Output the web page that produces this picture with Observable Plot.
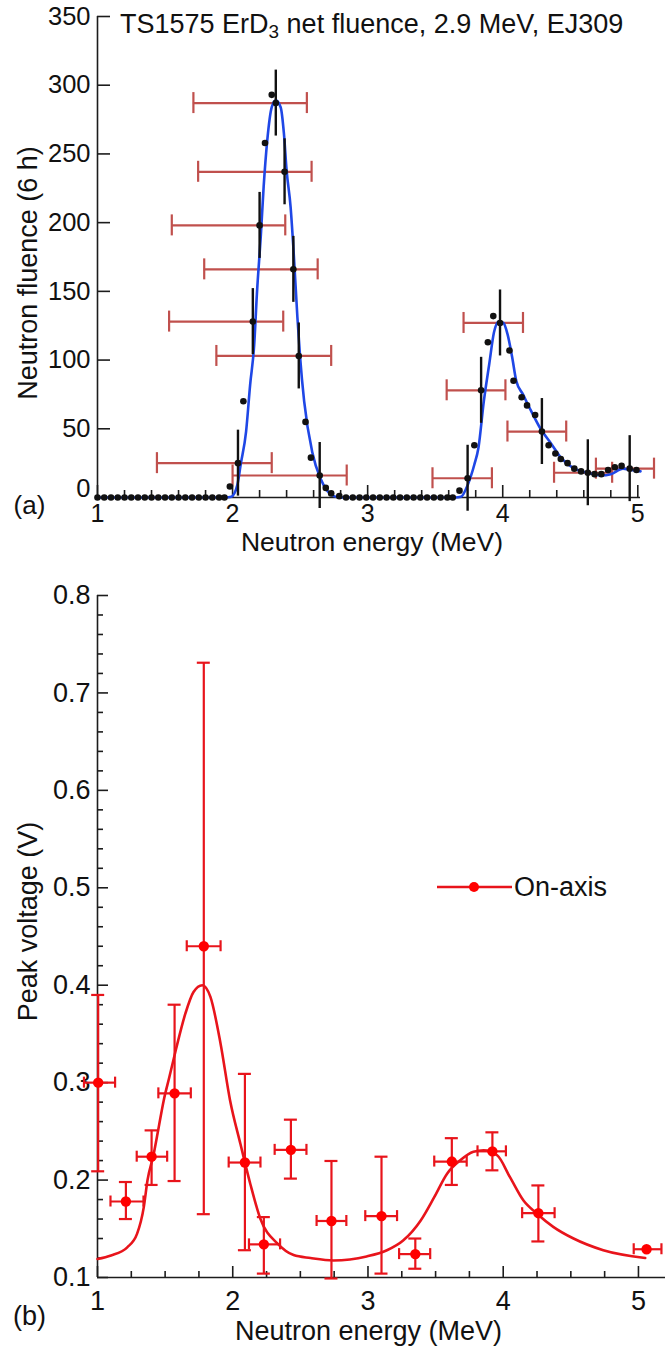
<!DOCTYPE html>
<html><head><meta charset="utf-8">
<script src="https://cdn.jsdelivr.net/npm/d3@7"></script>
<script src="https://cdn.jsdelivr.net/npm/@observablehq/plot@0.6"></script>
<style>
body{margin:0;background:#fff;font-family:"Liberation Sans",Arial,sans-serif;}
#wrap{position:relative;width:667px;height:1356px;overflow:hidden;background:#fff}
#chartA{position:absolute;left:0;top:0}
#chartB{position:absolute;left:0;top:545px}
#title{position:absolute;left:120px;top:11px;font-size:27px;line-height:27px;color:#111;white-space:nowrap}
#title sub{font-size:0.7em;vertical-align:-0.28em;line-height:0}
#legend{position:absolute;left:437px;top:872px;height:30px;white-space:nowrap}
#legend svg{position:absolute;left:0;top:0}
#legend span{position:absolute;left:77px;top:0;font-size:27px;line-height:30px;color:#111}
</style></head><body>
<div id="wrap">
  <div id="chartB"></div>
  <div id="chartA"></div>
  <div id="title">TS1575 ErD<sub>3</sub> net fluence, 2.9 MeV, EJ309</div>
  <div id="legend"><svg width="76" height="30"><line x1="0" x2="75" y1="15" y2="15" stroke="#e8141b" stroke-width="2.5"/><circle cx="37" cy="15" r="5" fill="#ff0000"/></svg><span>On-axis</span></div>
</div>
<script>
// ---------- (a) ErD3 net fluence ----------
const fluenceE = [1.00,1.05,1.10,1.15,1.20,1.25,1.30,1.35,1.40,1.45,1.50,1.55,1.60,1.65,1.70,1.75,1.80,1.85,1.90,1.94,
  1.98,2.04,2.08,2.15,2.20,2.24,2.29,2.32,2.385,2.45,2.49,2.54,2.58,2.645,2.69,2.73,2.79,
  2.84,2.89,2.94,2.99,3.04,3.09,3.14,3.19,3.24,3.29,3.34,3.39,3.44,3.49,3.54,3.59,3.63,
  3.68,3.74,3.79,3.84,3.89,3.93,3.98,4.05,4.08,4.14,4.18,4.24,4.29,4.34,4.39,4.43,4.48,4.53,4.58,4.63,4.68,4.73,4.78,4.83,4.88,4.94,4.99];
const fluenceV = [0,0,0,0,0,0,0,0,0,0,0,0,0,0,0,0,0,0,0,0,
  8,25,70,128,198,258,293,287,237,166,103,55,29,16,7,3,1,
  0,0,0,0,0,0,0,0,0,0,0,0,0,0,0,0,0,
  5,14,38,78,113,132,127,107,85,73,67,60,48,38,32,28,25,21,19,18,17,17,20,22,23,21,20];

const fitE = [1.00,1.95,1.99,2.035,2.06,2.10,2.13,2.16,2.18,2.21,2.23,2.257,2.29,2.32,2.356,2.38,2.40,2.43,2.45,2.48,2.50,2.53,2.59,2.65,2.70,2.75,2.80,
  3.65,3.69,3.74,3.79,3.82,3.86,3.90,3.935,3.97,4.005,4.035,4.07,4.10,4.15,4.21,4.28,4.36,4.43,4.53,4.63,4.73,4.80,4.89,4.95,5.02];
const fitV = [0,0,0.5,9,24,48,82,111,148,192,226,260,284,289,284,265,238,211,182,131,102,70,33,14,5,1,0,
  0,0.5,9,24,36,70,97,120,128,127,119,102,85,75,63,50,39,29,21,18,16,17,21,20,19];

const errE   = [2.04, 2.15, 2.20, 2.32, 2.385, 2.45, 2.49, 2.645, 3.74, 3.84, 3.98, 4.29, 4.63, 4.94];
const errV   = [25, 128, 198, 287, 237, 166, 103, 16, 14, 78, 127, 48, 18, 21];
const errLo  = [1, 104, 174, 263, 213, 142, 79, -8, -10, 54, 103, 24, -6, -3];
const errHi  = [49, 152, 222, 311, 261, 190, 127, 40, 38, 102, 151, 72, 42, 45];
const errXlo = [1.44, 1.53, 1.55, 1.71, 1.745, 1.79, 1.88, 2.00, 3.48, 3.585, 3.71, 4.035, 4.38, 4.69];
const errXhi = [2.29, 2.375, 2.39, 2.55, 2.585, 2.63, 2.73, 2.845, 3.92, 4.02, 4.15, 4.47, 4.81, 5.12];

const topXDomain = [1, 5.02];
const topYDomain = [0, 350];
const topXMajor = [1, 2, 3, 4, 5];
const topXMinor = [1.2, 1.4, 1.6, 1.8, 2.2, 2.4, 2.6, 2.8, 3.2, 3.4, 3.6, 3.8, 4.2, 4.4, 4.6, 4.8];
const topYTicks = [0, 50, 100, 150, 200, 250, 300, 350];

// ---------- (b) Peak voltage ----------
const voltE   = [1.005, 1.21, 1.40, 1.57, 1.786, 2.09, 2.23, 2.43, 2.73, 3.10, 3.35, 3.62, 3.92, 4.26, 5.06];
const voltV   = [0.300, 0.178, 0.224, 0.289, 0.440, 0.218, 0.134, 0.231, 0.158, 0.163, 0.124, 0.219, 0.2295, 0.166, 0.129];
const voltLo  = [0.209, 0.160, 0.195, 0.199, 0.165, 0.128, 0.104, 0.2015, 0.099, 0.104, 0.109, 0.195, 0.210, 0.137, null];
const voltHi  = [0.390, 0.198, 0.251, 0.380, 0.731, 0.309, 0.162, 0.262, 0.2196, 0.224, 0.140, 0.243, 0.249, 0.1945, null];
const voltElo = [0.90, 1.096, 1.29, 1.45, 1.66, 1.97, 2.12, 2.31, 2.62, 2.98, 3.23, 3.49, 3.81, 4.14, 4.965];
const voltEhi = [1.13, 1.34, 1.515, 1.69, 1.91, 2.205, 2.35, 2.545, 2.84, 3.215, 3.46, 3.73, 4.02, 4.38, 5.17];

const curveE = [1.00,1.10,1.22,1.293,1.342,1.37,1.416,1.453,1.49,1.53,1.58,1.65,1.71,1.775,1.835,1.91,1.98,2.057,2.13,2.205,2.33,2.45,2.575,2.745,
  2.99,3.14,3.26,3.39,3.49,3.585,3.68,3.78,3.855,3.955,4.05,4.15,4.25,4.37,4.52,4.74,5.05];
const curveV = [0.119,0.1226,0.131,0.145,0.172,0.200,0.227,0.2545,0.282,0.305,0.334,0.371,0.393,0.400,0.388,0.340,0.282,0.237,0.196,0.160,0.135,0.123,0.120,0.1175,
  0.1216,0.128,0.138,0.1586,0.1825,0.2066,0.220,0.229,0.2305,0.2254,0.203,0.179,0.1655,0.152,0.140,0.128,0.120];

const botXDomain = [1, 5.2];
const botYDomain = [0.1, 0.8];
const botXMajor = [1, 2, 3, 4, 5];
const botXMinor = [1.25, 1.5, 1.75, 2.25, 2.5, 2.75, 3.25, 3.5, 3.75, 4.25, 4.5, 4.75];
const botYMajor = [0.1, 0.2, 0.3, 0.4, 0.5, 0.6, 0.7, 0.8];
const botYMinor = [0.12,0.14,0.16,0.18,0.22,0.24,0.26,0.28,0.32,0.34,0.36,0.38,0.42,0.44,0.46,0.48,0.52,0.54,0.56,0.58,0.62,0.64,0.66,0.68,0.72,0.74,0.76,0.78];

// ---------- build rows ----------
const dots = fluenceE.map((e, i) => ({e, v: fluenceV[i]}));
const fit = fitE.map((e, i) => ({e, v: fitV[i]}));
const errRows = errE.map((e, i) => ({e, v: errV[i], lo: errLo[i], hi: errHi[i], xlo: errXlo[i], xhi: errXhi[i]}));
const volt = voltE.map((e, i) => ({e, v: voltV[i], lo: voltLo[i], hi: voltHi[i], elo: voltElo[i], ehi: voltEhi[i]}));
const voltWithY = volt.filter(d => d.lo != null);
const curve = curveE.map((e, i) => ({e, v: curveV[i]}));

const axisColor = "#1c1c1c";
const font = '"Liberation Sans", Arial, sans-serif';
const brown = "#c0504d";
const red = "#e8141b";

const styleObj = {fontFamily: font, fontSize: "26px", color: "#111", background: "transparent", overflow: "visible"};

const topPlot = Plot.plot({
  width: 667, height: 545,
  marginLeft: 97, marginRight: 27, marginTop: 16, marginBottom: 48,
  x: {domain: topXDomain, axis: null},
  y: {domain: topYDomain, axis: null},
  style: styleObj,
  marks: [
    // axes
    Plot.ruleY([topYDomain[0]], {stroke: axisColor, strokeWidth: 1.6}),
    Plot.ruleX([topXDomain[0]], {stroke: axisColor, strokeWidth: 1.6}),
    Plot.ruleX(topXMajor, {x: d => d, y1: () => topYDomain[0], y2: () => topYDomain[0], insetTop: -12, stroke: axisColor, strokeWidth: 1.6}),
    Plot.ruleX(topXMinor, {x: d => d, y1: () => topYDomain[0], y2: () => topYDomain[0], insetTop: -7, stroke: axisColor, strokeWidth: 1.6}),
    Plot.ruleY(topYTicks, {y: d => d, x1: () => topXDomain[0], x2: () => topXDomain[0], insetRight: -13, stroke: axisColor, strokeWidth: 1.6}),
    Plot.text(topXMajor, {x: d => d, y: () => topYDomain[0], text: d => String(d), dy: 16, fontSize: 25, fill: "#111"}),
    Plot.text(topYTicks.filter(d => d > 0), {x: () => topXDomain[0], y: d => d, text: d => String(d), dx: -7, textAnchor: "end", fontSize: 25.5, fill: "#111"}),
    Plot.text(topYTicks.filter(d => d === 0), {x: () => topXDomain[0], y: d => d, text: d => String(d), dx: -7, dy: -9, textAnchor: "end", fontSize: 25.5, fill: "#111"}),
    Plot.text(["Neutron fluence (6 h)"], {frameAnchor: "left", textAnchor: "middle", rotate: -90, dx: -69, dy: 16, fontSize: 27, fill: "#111"}),
    Plot.text(["Neutron energy (MeV)"], {frameAnchor: "bottom", textAnchor: "middle", dx: 3, dy: 53, fontSize: 26.5, fill: "#111"}),
    Plot.text(["(a)"], {frameAnchor: "bottom-left", textAnchor: "middle", dx: -68, dy: 16, fontSize: 26, fill: "#111"}),
    // horizontal (brown) error bars with caps
    Plot.ruleY(errRows, {y: "v", x1: "xlo", x2: "xhi", stroke: brown, strokeWidth: 2.2}),
    Plot.ruleX(errRows, {x: "xlo", y1: "v", y2: "v", insetTop: -10.5, insetBottom: -10.5, stroke: brown, strokeWidth: 2.2}),
    Plot.ruleX(errRows, {x: "xhi", y1: "v", y2: "v", insetTop: -10.5, insetBottom: -10.5, stroke: brown, strokeWidth: 2.2}),
    // fit line
    Plot.line(fit, {x: "e", y: "v", stroke: "#1f47e6", strokeWidth: 2.6, curve: "monotone-x"}),
    // vertical (black) error bars
    Plot.ruleX(errRows, {x: "e", y1: "lo", y2: "hi", stroke: "#111", strokeWidth: 2.4}),
    // data points
    Plot.dot(dots, {x: "e", y: "v", r: 3.3, fill: "#111"})
  ]
});
document.getElementById("chartA").appendChild(topPlot);

const botPlot = Plot.plot({
  width: 667, height: 811,
  marginLeft: 97, marginRight: 2, marginTop: 50, marginBottom: 79,
  x: {domain: botXDomain, axis: null},
  y: {domain: botYDomain, axis: null},
  style: styleObj,
  marks: [
    Plot.ruleY([botYDomain[0]], {stroke: axisColor, strokeWidth: 1.6}),
    Plot.ruleX([botXDomain[0]], {stroke: axisColor, strokeWidth: 1.6}),
    Plot.ruleX(botXMajor, {x: d => d, y1: () => botYDomain[0], y2: () => botYDomain[0], insetTop: -11, stroke: axisColor, strokeWidth: 1.6}),
    Plot.ruleX(botXMinor, {x: d => d, y1: () => botYDomain[0], y2: () => botYDomain[0], insetTop: -6, stroke: axisColor, strokeWidth: 1.6}),
    Plot.ruleY(botYMajor, {y: d => d, x1: () => botXDomain[0], x2: () => botXDomain[0], insetRight: -11, stroke: axisColor, strokeWidth: 1.6}),
    Plot.ruleY(botYMinor, {y: d => d, x1: () => botXDomain[0], x2: () => botXDomain[0], insetRight: -6, stroke: axisColor, strokeWidth: 1.6}),
    Plot.text(botXMajor, {x: d => d, y: () => botYDomain[0], text: d => String(d), dy: 24, fontSize: 27, fill: "#111"}),
    Plot.text(botYMajor, {x: () => botXDomain[0], y: d => d, text: d => d3.format(".1f")(d), dx: -7, textAnchor: "end", fontSize: 27, fill: "#111"}),
    Plot.text(["Peak voltage (V)"], {frameAnchor: "left", textAnchor: "middle", rotate: -90, dx: -69, dy: -15, fontSize: 27, fill: "#111"}),
    Plot.text(["Neutron energy (MeV)"], {frameAnchor: "bottom", textAnchor: "middle", dx: -13, dy: 62, fontSize: 27, fill: "#111"}),
    Plot.text(["(b)"], {frameAnchor: "bottom-left", textAnchor: "middle", dx: -68, dy: 47, fontSize: 27, fill: "#111"}),
    // fit curve
    Plot.line(curve, {x: "e", y: "v", stroke: red, strokeWidth: 2.6, curve: "monotone-x"}),
    // vertical error bars + caps
    Plot.ruleX(voltWithY, {x: "e", y1: "lo", y2: "hi", stroke: red, strokeWidth: 2.2}),
    Plot.ruleY(voltWithY, {y: "lo", x1: "e", x2: "e", insetLeft: -6.5, insetRight: -6.5, stroke: red, strokeWidth: 2.2}),
    Plot.ruleY(voltWithY, {y: "hi", x1: "e", x2: "e", insetLeft: -6.5, insetRight: -6.5, stroke: red, strokeWidth: 2.2}),
    // horizontal error bars + caps
    Plot.ruleY(volt, {y: "v", x1: "elo", x2: "ehi", stroke: red, strokeWidth: 2.2}),
    Plot.ruleX(volt, {x: "elo", y1: "v", y2: "v", insetTop: -5.5, insetBottom: -5.5, stroke: red, strokeWidth: 2.2}),
    Plot.ruleX(volt, {x: "ehi", y1: "v", y2: "v", insetTop: -5.5, insetBottom: -5.5, stroke: red, strokeWidth: 2.2}),
    // points
    Plot.dot(volt, {x: "e", y: "v", r: 5.2, fill: "#ff0000"})
  ]
});
document.getElementById("chartB").appendChild(botPlot);
</script>
</body></html>
